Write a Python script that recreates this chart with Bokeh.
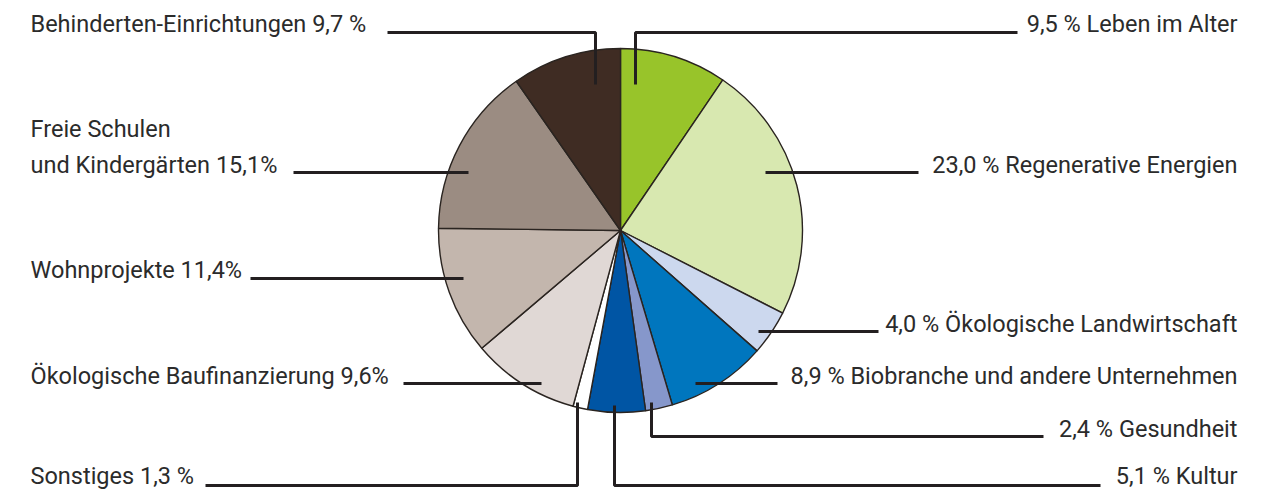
import math
from bokeh.plotting import figure
from bokeh.models import Range1d, ColumnDataSource
from bokeh.core.properties import value
from bokeh.embed import file_html
from bokeh.resources import INLINE

# ---- data (clockwise from 12 o'clock) ----
categories = ["Leben im Alter", "Regenerative Energien", "Ökologische Landwirtschaft",
              "Biobranche und andere Unternehmen", "Gesundheit", "Kultur", "Sonstiges",
              "Ökologische Baufinanzierung", "Wohnprojekte", "Freie Schulen und Kindergärten",
              "Behinderten-Einrichtungen"]
shares = [9.5, 23.0, 4.0, 8.9, 2.4, 5.1, 1.3, 9.6, 11.4, 15.1, 9.7]
colors = ["#98c42a", "#d8e8b0", "#ccd8ee", "#0076be", "#8697cb", "#0055a4", "#ffffff",
          "#e0d8d5", "#c3b6ad", "#9b8c82", "#3f2c23"]

left_labels = ["Behinderten-Einrichtungen 9,7 %", "Freie Schulen", "und Kindergärten 15,1%",
               "Wohnprojekte 11,4%", "Ökologische Baufinanzierung 9,6%", "Sonstiges 1,3 %"]
right_labels = ["9,5 % Leben im Alter", "23,0 % Regenerative Energien",
                "4,0 % Ökologische Landwirtschaft", "8,9 % Biobranche und andere Unternehmen",
                "2,4 % Gesundheit", "5,1 % Kultur"]

# ---- layout (pixel coordinates of the picture) ----
W, H = 1259, 490
def Y(py):
    return 498 - py

cx, cy, R = 620, Y(230), 182

TXT_SHIFT = 9  # baseline -> visual middle
left_text_x = 30
left_text_y = [32, 137, 173, 278, 384, 484]
right_text_x = 1237
right_text_y = [32, 173, 332, 384, 437, 484]

leaders_px = [
    [(387, 32), (595, 32), (595, 84)],
    [(1017, 32), (635, 32), (635, 84)],
    [(293, 172), (468, 172)],
    [(918, 172), (765, 172)],
    [(250, 278), (463, 278)],
    [(878, 331), (758, 331)],
    [(403, 383), (541, 383)],
    [(777, 383), (695, 383)],
    [(1043, 436), (651, 436), (651, 402)],
    [(205, 485), (577, 485), (577, 402)],
    [(1100, 485), (614, 485), (614, 405)],
]

p = figure(width=W, height=H, output_backend="svg", toolbar_location=None,
           x_range=Range1d(0, W), y_range=Range1d(498 - H, 498), min_border=0)
p.axis.visible = False
p.grid.visible = False
p.outline_line_color = None
p.background_fill_color = "white"

total = sum(shares)
starts, ends = [], []
cum = 0.0
for s in shares:
    starts.append(math.pi / 2 - 2 * math.pi * cum / total)
    cum += s
    ends.append(math.pi / 2 - 2 * math.pi * cum / total)

src = ColumnDataSource(dict(start=starts, end=ends, color=colors, cat=categories, share=shares))
p.wedge(x=cx, y=cy, radius=R, start_angle="start", end_angle="end", direction="clock",
        fill_color="color", line_color="#2a2420", line_width=1.4, source=src)

p.multi_line(xs=[[pt[0] for pt in l] for l in leaders_px],
             ys=[[Y(pt[1]) for pt in l] for l in leaders_px],
             line_color="#231f20", line_width=3)

font = value("Roboto")
p.text(x=[left_text_x] * len(left_labels), y=[Y(v - TXT_SHIFT) for v in left_text_y],
       text=left_labels, text_font=font, text_font_size="23.5px", text_color="#2b2b2b",
       text_align="left", text_baseline="middle")
p.text(x=[right_text_x] * len(right_labels), y=[Y(v - TXT_SHIFT) for v in right_text_y],
       text=right_labels, text_font=font, text_font_size="23.5px", text_color="#2b2b2b",
       text_align="right", text_baseline="middle")

open("out.html", "w").write(file_html(p, INLINE))
